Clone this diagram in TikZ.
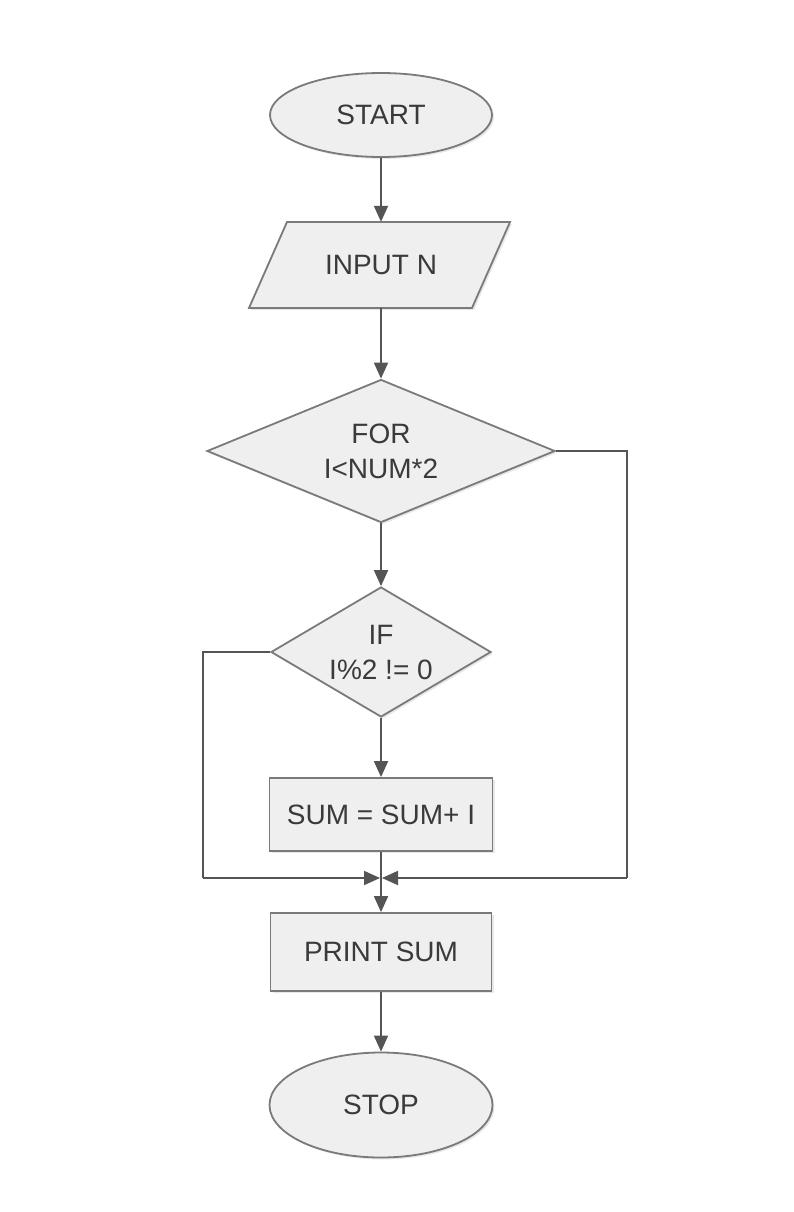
\documentclass[tikz,border=0pt]{standalone}
\usepackage{fontspec}
\setmainfont{Liberation Sans}
\usetikzlibrary{shapes.geometric,arrows.meta,shadows}
\definecolor{fillc}{HTML}{EFEFEF}
\definecolor{linec}{HTML}{7A7A7A}
\definecolor{arrc}{HTML}{555555}
\definecolor{txtc}{HTML}{3A3A3A}
\begin{document}
\begin{tikzpicture}[x=1pt,y=-1pt,
  boxbase/.style={draw=linec, line width=1.8pt, fill=fillc, text=txtc,
    font=\fontsize{28}{35}\selectfont, inner sep=0pt, align=center,
    drop shadow={shadow xshift=2pt,shadow yshift=-2pt,opacity=0.18}},
  term/.style={boxbase, ellipse},
  proc/.style={boxbase, rectangle},
  dec/.style={boxbase, diamond},
  txtonly/.style={text=txtc, font=\fontsize{28}{35}\selectfont, inner sep=0pt, align=center},
  arr/.style={draw=arrc, line width=1.8pt, -{Triangle[length=16pt,width=14pt]}},
  ln/.style={draw=arrc, line width=1.8pt}]
\useasboundingbox[fill=white] (0,0) rectangle (793,1212);

% START
\node[term, minimum width=222pt, minimum height=84pt] (start) at (381,115) {START};

% INPUT N (parallelogram)
\path[boxbase] (287,222) -- (510,222) -- (472,308) -- (249,308) -- cycle;
\node[txtonly, minimum width=223pt, minimum height=86pt] (inp) at (381,265) {INPUT N};

% FOR decision
\node[dec, aspect=2.43, minimum width=348pt, minimum height=143pt] (for) at (381,451) {FOR\\I<NUM*2};

% IF decision
\node[dec, aspect=1.69, minimum width=220pt, minimum height=130pt] (if) at (381,652) {IF\\I\%2 != 0};

% SUM box
\node[proc, minimum width=223pt, minimum height=73pt] (sum) at (381,814.5) {SUM = SUM+ I};

% PRINT box
\node[proc, minimum width=221pt, minimum height=78pt] (print) at (381,952) {PRINT SUM};

% STOP
\node[term, minimum width=223pt, minimum height=105pt] (stop) at (381,1105) {STOP};

% merge coordinates
\coordinate (ml) at (203,878);
\coordinate (mr) at (627,878);
\coordinate (mcl) at (380,878);
\coordinate (mcr) at (382,878);

% connectors
\draw[arr] (start.south) -- (start.south |- inp.north);
\draw[arr] (inp.south) -- (inp.south |- for.north);
\draw[arr] (for.south) -- (for.south |- if.north);
\draw[arr] (if.south) -- (if.south |- sum.north);
\draw[arr] (sum.south) -- (sum.south |- print.north);
\draw[arr] (print.south) -- (print.south |- stop.north);
\draw[ln] (if.west) -| (ml);
\draw[arr] (ml) -- (mcl);
\draw[ln] (for.east) -| (mr);
\draw[arr] (mr) -- (mcr);
\end{tikzpicture}
\end{document}
